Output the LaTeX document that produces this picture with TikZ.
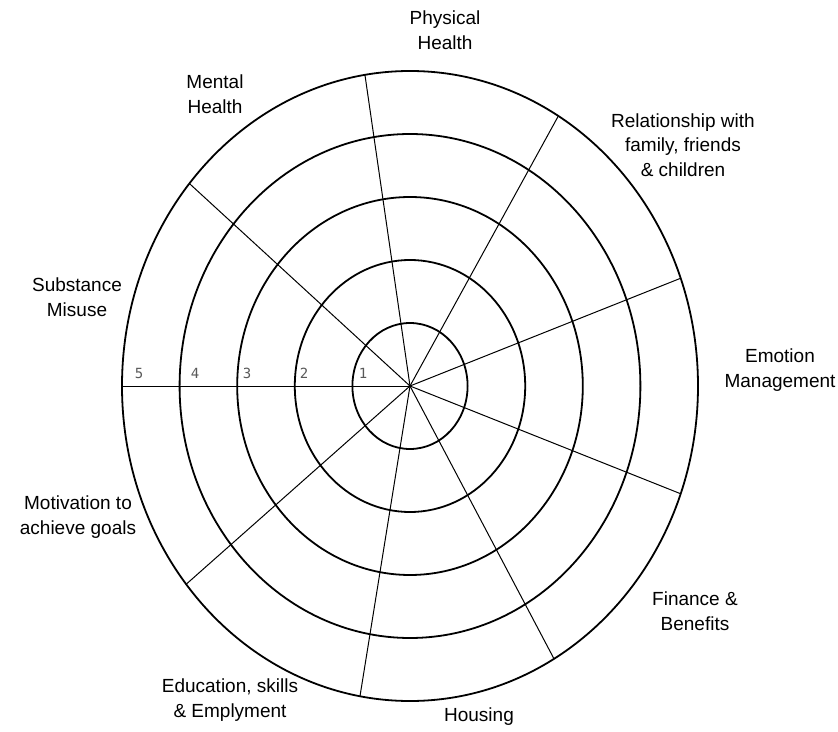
\documentclass[tikz,border=0pt]{standalone}
\usepackage{fontspec}
\setmainfont{Liberation Sans}
\newfontfamily\digitfont{DejaVu Sans Mono}
\tikzset{
  ring/.style={line width=1.8pt},
  spoke/.style={line width=1pt},
  area/.style={align=center,font=\fontsize{19}{24.5}\selectfont},
  score/.style={text=black!65,font=\digitfont\fontsize{14}{16}\selectfont,inner sep=0pt}
}
\begin{document}
\begin{tikzpicture}[x=1pt,y=1pt]
    \fill[white] (-410,-345) rectangle (428,386);
    \useasboundingbox (-410,-345) rectangle (428,386);
    % rings
    \draw[ring] (0,0) ellipse [x radius=57.6,y radius=63];
    \draw[ring] (0,0) ellipse [x radius=115.2,y radius=126];
    \draw[ring] (0,0) ellipse [x radius=172.8,y radius=189];
    \draw[ring] (0,0) ellipse [x radius=230.4,y radius=252];
    \draw[ring] (0,0) ellipse [x radius=288,y radius=315];
    % spokes
    \coordinate (hub) at (0,0);
    \coordinate (rim1) at (180:288 and 315);
    \coordinate (rim2) at (140:288 and 315);
    \coordinate (rim3) at (99:288 and 315);
    \coordinate (rim4) at (59:288 and 315);
    \coordinate (rim5) at (20:288 and 315);
    \coordinate (rim6) at (-20:288 and 315);
    \coordinate (rim7) at (-60:288 and 315);
    \coordinate (rim8) at (-100:288 and 315);
    \coordinate (rim9) at (-141:288 and 315);
    \draw[spoke] (hub)--(rim1);
    \draw[spoke] (hub)--(rim2);
    \draw[spoke] (hub)--(rim3);
    \draw[spoke] (hub)--(rim4);
    \draw[spoke] (hub)--(rim5);
    \draw[spoke] (hub)--(rim6);
    \draw[spoke] (hub)--(rim7);
    \draw[spoke] (hub)--(rim8);
    \draw[spoke] (hub)--(rim9);
    % scale
    \node[score] (s5) at (-271,13) {5};
    \node[score] (s4) at (-215,13) {4};
    \node[score] (s3) at (-163,13) {3};
    \node[score] (s2) at (-106,13) {2};
    \node[score] (s1) at (-47,13) {1};
    % areas
    \node[area] (physical) at (35,356) {Physical\\Health};
    \node[area] (mental) at (-195,292) {Mental\\Health};
    \node[area] (relation) at (273,241) {Relationship with\\family, friends\\\& children};
    \node[area] (emotion) at (370,16) {Emotion\\Management};
    \node[area] (finance) at (285,-225) {Finance \&\\Benefits};
    \node[area] (housing) at (69,-331) {Housing};
    \node[area] (education) at (-180,-314) {Education, skills\\\& Emplyment};
    \node[area] (motivation) at (-332,-131) {Motivation to\\achieve goals};
    \node[area] (substance) at (-333,89) {Substance\\Misuse};
  \end{tikzpicture}
\end{document}
